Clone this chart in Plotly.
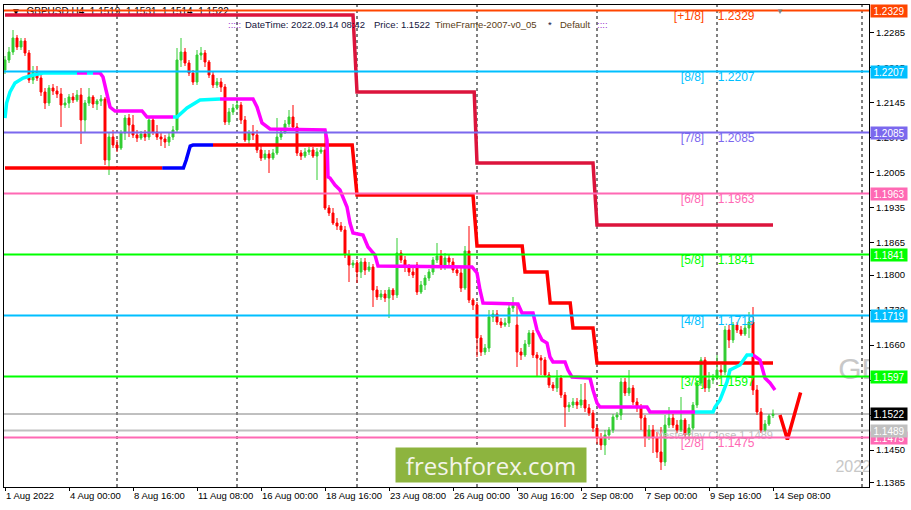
import plotly.graph_objects as go

# GBPUSD H4, bars from 1 Aug 2022 08:00 to 14 Sep 2022 08:00 (bar index = x)
open_ = [1.2210, 1.2230, 1.2246, 1.2274, 1.2256, 1.2268, 1.2244, 1.2190, 1.2206, 1.2194,
         1.2166, 1.2144, 1.2174, 1.2168, 1.2162, 1.2140, 1.2144, 1.2156, 1.2150, 1.2160,
         1.2110, 1.2144, 1.2156, 1.2142, 1.2148, 1.2152, 1.2030, 1.2076, 1.2060, 1.2054,
         1.2084, 1.2114, 1.2100, 1.2080, 1.2074, 1.2082, 1.2076, 1.2110, 1.2086, 1.2076,
         1.2072, 1.2066, 1.2076, 1.2090, 1.2230, 1.2246, 1.2224, 1.2204, 1.2186, 1.2240,
         1.2244, 1.2226, 1.2200, 1.2180, 1.2186, 1.2176, 1.2106, 1.2126, 1.2134, 1.2140,
         1.2110, 1.2070, 1.2084, 1.2080, 1.2050, 1.2034, 1.2042, 1.2034, 1.2044, 1.2076,
         1.2086, 1.2102, 1.2116, 1.2096, 1.2044, 1.2038, 1.2046, 1.2050, 1.2038, 1.2046,
         1.2050, 1.1934, 1.1924, 1.1904, 1.1898, 1.1890, 1.1840, 1.1820, 1.1824, 1.1806,
         1.1826, 1.1810, 1.1816, 1.1770, 1.1756, 1.1762, 1.1754, 1.1770, 1.1760, 1.1844,
         1.1830, 1.1816, 1.1806, 1.1820, 1.1766, 1.1780, 1.1794, 1.1806, 1.1830, 1.1838,
         1.1818, 1.1834, 1.1826, 1.1810, 1.1804, 1.1774, 1.1848, 1.1750, 1.1740, 1.1674,
         1.1646, 1.1654, 1.1716, 1.1722, 1.1706, 1.1700, 1.1704, 1.1734, 1.1700, 1.1646,
         1.1640, 1.1662, 1.1684, 1.1640, 1.1634, 1.1630, 1.1600, 1.1580, 1.1574, 1.1594,
         1.1560, 1.1536, 1.1540, 1.1546, 1.1540, 1.1550, 1.1534, 1.1524, 1.1494, 1.1474,
         1.1460, 1.1480, 1.1490, 1.1516, 1.1520, 1.1586, 1.1564, 1.1574, 1.1546, 1.1534,
         1.1514, 1.1476, 1.1490, 1.1474, 1.1446, 1.1426, 1.1500, 1.1514, 1.1500, 1.1490,
         1.1510, 1.1480, 1.1494, 1.1540, 1.1584, 1.1630, 1.1574, 1.1590, 1.1594, 1.1610,
         1.1606, 1.1690, 1.1670, 1.1700, 1.1690, 1.1682, 1.1694, 1.1706, 1.1570, 1.1526,
         1.1490, 1.1502, 1.1519]
high = [1.2238, 1.2256, 1.2290, 1.2280, 1.2274, 1.2274, 1.2250, 1.2218, 1.2218, 1.2202,
        1.2174, 1.2180, 1.2182, 1.2178, 1.2174, 1.2154, 1.2162, 1.2164, 1.2170, 1.2174,
        1.2150, 1.2174, 1.2160, 1.2152, 1.2160, 1.2156, 1.2084, 1.2090, 1.2070, 1.2090,
        1.2120, 1.2122, 1.2120, 1.2090, 1.2088, 1.2090, 1.2116, 1.2114, 1.2100, 1.2084,
        1.2080, 1.2084, 1.2098, 1.2254, 1.2274, 1.2254, 1.2230, 1.2210, 1.2250, 1.2256,
        1.2250, 1.2230, 1.2206, 1.2194, 1.2194, 1.2182, 1.2134, 1.2142, 1.2150, 1.2146,
        1.2118, 1.2090, 1.2100, 1.2090, 1.2058, 1.2050, 1.2050, 1.2052, 1.2114, 1.2094,
        1.2110, 1.2130, 1.2140, 1.2104, 1.2050, 1.2054, 1.2056, 1.2056, 1.2054, 1.2056,
        1.2090, 1.1940, 1.1934, 1.1914, 1.1906, 1.1898, 1.1850, 1.1830, 1.1830, 1.1834,
        1.1834, 1.1826, 1.1822, 1.1778, 1.1770, 1.1770, 1.1776, 1.1774, 1.1874, 1.1850,
        1.1838, 1.1822, 1.1818, 1.1826, 1.1788, 1.1800, 1.1812, 1.1836, 1.1864, 1.1850,
        1.1844, 1.1842, 1.1834, 1.1818, 1.1818, 1.1858, 1.1898, 1.1754, 1.1746, 1.1680,
        1.1662, 1.1730, 1.1730, 1.1730, 1.1714, 1.1714, 1.1746, 1.1756, 1.1740, 1.1654,
        1.1670, 1.1690, 1.1690, 1.1646, 1.1640, 1.1636, 1.1606, 1.1586, 1.1610, 1.1600,
        1.1566, 1.1546, 1.1554, 1.1554, 1.1582, 1.1584, 1.1542, 1.1530, 1.1500, 1.1484,
        1.1490, 1.1496, 1.1522, 1.1526, 1.1594, 1.1594, 1.1610, 1.1580, 1.1554, 1.1542,
        1.1520, 1.1500, 1.1500, 1.1486, 1.1496, 1.1520, 1.1536, 1.1522, 1.1510, 1.1556,
        1.1514, 1.1502, 1.1546, 1.1590, 1.1636, 1.1636, 1.1606, 1.1602, 1.1640, 1.1620,
        1.1698, 1.1700, 1.1706, 1.1706, 1.1698, 1.1700, 1.1726, 1.1736, 1.1580, 1.1534,
        1.1510, 1.1522, 1.1531]
low = [1.2202, 1.2224, 1.2240, 1.2250, 1.2250, 1.2238, 1.2184, 1.2182, 1.2188, 1.2158,
       1.2132, 1.2138, 1.2160, 1.2154, 1.2096, 1.2134, 1.2134, 1.2144, 1.2146, 1.2062,
       1.2086, 1.2138, 1.2134, 1.2130, 1.2138, 1.2020, 1.2000, 1.2054, 1.2046, 1.2050,
       1.2070, 1.2076, 1.2074, 1.2066, 1.2070, 1.2068, 1.2070, 1.2080, 1.2070, 1.2058,
       1.2054, 1.2058, 1.2070, 1.2084, 1.2216, 1.2218, 1.2198, 1.2180, 1.2180, 1.2230,
       1.2216, 1.2194, 1.2174, 1.2174, 1.2166, 1.2100, 1.2100, 1.2120, 1.2130, 1.2102,
       1.2066, 1.2060, 1.2070, 1.2044, 1.2028, 1.2030, 1.2004, 1.2030, 1.2040, 1.2070,
       1.2082, 1.2096, 1.2090, 1.2038, 1.2030, 1.2034, 1.2040, 1.2034, 1.1990, 1.2042,
       1.1930, 1.1918, 1.1900, 1.1890, 1.1886, 1.1834, 1.1786, 1.1814, 1.1784, 1.1794,
       1.1800, 1.1806, 1.1736, 1.1750, 1.1750, 1.1746, 1.1714, 1.1750, 1.1754, 1.1824,
       1.1806, 1.1798, 1.1794, 1.1760, 1.1762, 1.1770, 1.1788, 1.1800, 1.1824, 1.1810,
       1.1810, 1.1818, 1.1804, 1.1798, 1.1766, 1.1770, 1.1744, 1.1730, 1.1636, 1.1638,
       1.1640, 1.1646, 1.1706, 1.1700, 1.1694, 1.1696, 1.1696, 1.1726, 1.1616, 1.1630,
       1.1636, 1.1656, 1.1634, 1.1596, 1.1600, 1.1596, 1.1574, 1.1568, 1.1566, 1.1554,
       1.1496, 1.1526, 1.1534, 1.1532, 1.1534, 1.1526, 1.1518, 1.1486, 1.1462, 1.1450,
       1.1440, 1.1470, 1.1484, 1.1510, 1.1510, 1.1558, 1.1558, 1.1540, 1.1526, 1.1490,
       1.1456, 1.1470, 1.1444, 1.1434, 1.1410, 1.1418, 1.1494, 1.1494, 1.1484, 1.1486,
       1.1474, 1.1470, 1.1490, 1.1534, 1.1578, 1.1566, 1.1566, 1.1582, 1.1590, 1.1598,
       1.1600, 1.1654, 1.1664, 1.1684, 1.1678, 1.1678, 1.1674, 1.1560, 1.1520, 1.1484,
       1.1486, 1.1498, 1.1514]
close = [1.2230, 1.2246, 1.2274, 1.2256, 1.2268, 1.2244, 1.2190, 1.2206, 1.2194, 1.2166,
         1.2144, 1.2174, 1.2168, 1.2162, 1.2140, 1.2144, 1.2156, 1.2150, 1.2160, 1.2110,
         1.2144, 1.2156, 1.2142, 1.2148, 1.2152, 1.2030, 1.2076, 1.2060, 1.2054, 1.2084,
         1.2114, 1.2100, 1.2080, 1.2074, 1.2082, 1.2076, 1.2110, 1.2086, 1.2076, 1.2072,
         1.2066, 1.2076, 1.2090, 1.2230, 1.2246, 1.2224, 1.2204, 1.2186, 1.2240, 1.2244,
         1.2226, 1.2200, 1.2180, 1.2186, 1.2176, 1.2106, 1.2126, 1.2134, 1.2140, 1.2110,
         1.2070, 1.2084, 1.2080, 1.2050, 1.2034, 1.2042, 1.2034, 1.2044, 1.2076, 1.2086,
         1.2102, 1.2116, 1.2096, 1.2044, 1.2038, 1.2046, 1.2050, 1.2038, 1.2046, 1.2050,
         1.1934, 1.1924, 1.1904, 1.1898, 1.1890, 1.1840, 1.1820, 1.1824, 1.1806, 1.1826,
         1.1810, 1.1816, 1.1770, 1.1756, 1.1762, 1.1754, 1.1770, 1.1760, 1.1844, 1.1830,
         1.1816, 1.1806, 1.1800, 1.1766, 1.1780, 1.1794, 1.1806, 1.1830, 1.1838, 1.1818,
         1.1834, 1.1826, 1.1810, 1.1804, 1.1774, 1.1848, 1.1750, 1.1740, 1.1674, 1.1646,
         1.1654, 1.1716, 1.1722, 1.1706, 1.1700, 1.1704, 1.1734, 1.1740, 1.1646, 1.1640,
         1.1662, 1.1684, 1.1640, 1.1634, 1.1630, 1.1600, 1.1580, 1.1574, 1.1594, 1.1560,
         1.1536, 1.1540, 1.1546, 1.1540, 1.1550, 1.1534, 1.1524, 1.1494, 1.1474, 1.1460,
         1.1480, 1.1490, 1.1516, 1.1520, 1.1586, 1.1564, 1.1574, 1.1546, 1.1534, 1.1514,
         1.1476, 1.1490, 1.1474, 1.1446, 1.1426, 1.1500, 1.1514, 1.1500, 1.1490, 1.1510,
         1.1480, 1.1494, 1.1540, 1.1584, 1.1630, 1.1574, 1.1590, 1.1594, 1.1610, 1.1606,
         1.1690, 1.1670, 1.1700, 1.1690, 1.1682, 1.1694, 1.1706, 1.1570, 1.1526, 1.1490,
         1.1502, 1.1518, 1.1522]

x_labels = ["1 Aug 2022", "4 Aug 00:00", "8 Aug 16:00", "11 Aug 08:00", "16 Aug 00:00",
            "18 Aug 16:00", "23 Aug 08:00", "26 Aug 00:00", "30 Aug 16:00", "2 Sep 08:00",
            "7 Sep 00:00", "9 Sep 16:00", "14 Sep 08:00"]
week_starts = [28, 58, 88, 118, 148, 178, 214.25]

y_ticks = [1.2285, 1.2215, 1.2145, 1.2075, 1.2005, 1.1935, 1.1865, 1.1800,
           1.1730, 1.1660, 1.1590, 1.1520, 1.1450, 1.1385]

# Murrey math levels
mm_names = ["[+1/8]", "[8/8]", "[7/8]", "[6/8]", "[5/8]", "[4/8]", "[3/8]", "[2/8]"]
mm_levels = [1.2329, 1.2207, 1.2085, 1.1963, 1.1841, 1.1719, 1.1597, 1.1475]
mm_colors = ["#FF4500", "#00BFFF", "#7B68EE", "#FF69B4", "#00FF00", "#00BFFF", "#00FF00", "#FF69B4"]

price_now = 1.1522
yest_close = 1.1489

# weekly channel, upper (crimson) and lower (red / blue while rising)
upper_x = [0, 87, 88, 117.3, 118, 147, 148, 192]
upper_y = [1.2320, 1.2320, 1.2166, 1.2166, 1.2024, 1.2024, 1.1900, 1.1900]
lower_a_x = [0, 39.3]
lower_a_y = [1.2014, 1.2014]
lower_up_x = [39.3, 44.6, 45.3, 46.3, 47, 52]
lower_up_y = [1.2014, 1.2014, 1.2030, 1.2058, 1.2060, 1.2060]
lower_b_x = [52, 86.8, 88, 117, 118, 129.3, 130, 135.5, 136.3, 141.3, 142, 147, 148, 192]
lower_b_y = [1.2060, 1.2060, 1.1960, 1.1960, 1.1858, 1.1858, 1.1806, 1.1806,
             1.1744, 1.1744, 1.1694, 1.1694, 1.1624, 1.1624]

# step average: rising parts aqua, falling parts magenta
ma_up = [
    ([0, 0.4, 1.25, 2.5, 4.5, 7, 9.5, 18],
     [1.2114, 1.2144, 1.2166, 1.2184, 1.2194, 1.2200, 1.2204, 1.2204]),
    ([20.5, 22], [1.2204, 1.2204]),
    ([42, 43, 45.5, 48.75, 53.75], [1.2116, 1.2116, 1.2134, 1.2150, 1.2152]),
    ([172.5, 177, 177.5, 178.75, 180.5, 181.25, 183.75, 185.5, 187],
     [1.1526, 1.1526, 1.1536, 1.1550, 1.1586, 1.1610, 1.1620, 1.1640, 1.1640]),
]
ma_down = [
    ([18, 20.5], [1.2204, 1.2204]),
    ([22, 23.75, 24.5, 25.5, 26.25, 27.5, 34.25, 35.5, 42],
     [1.2204, 1.2204, 1.2196, 1.2164, 1.2136, 1.2128, 1.2128, 1.2116, 1.2116]),
    ([53.75, 62, 63, 64.25, 66.25, 80, 80.5, 80.75, 81.25, 82.5, 83.75, 84.5, 85.5, 86.25,
      87, 89.5, 90.75, 92.5, 93.25, 116.75, 118, 118.75, 119.5, 128.25, 129.25, 132, 133,
      134.25, 135.5, 136.25, 137, 140, 140.75, 141.75, 146.25, 147, 148, 148.75, 160.5,
      161.25, 172.5],
     [1.2152, 1.2152, 1.2136, 1.2104, 1.2092, 1.2090, 1.2070, 1.1996, 1.1994, 1.1980,
      1.1970, 1.1956, 1.1936, 1.1904, 1.1884, 1.1880, 1.1856, 1.1840, 1.1818, 1.1816,
      1.1804, 1.1770, 1.1744, 1.1742, 1.1724, 1.1724, 1.1690, 1.1670, 1.1664, 1.1636,
      1.1626, 1.1626, 1.1610, 1.1596, 1.1594, 1.1570, 1.1544, 1.1536, 1.1536, 1.1526,
      1.1526]),
    ([187, 188.75, 190, 191.25, 192.5], [1.1640, 1.1630, 1.1594, 1.1584, 1.1570]),
]

# hand-drawn tick mark in the future area
check_x = [193.75, 195.6, 198.9]
check_y = [1.1520, 1.1471, 1.1565]

FONT = "Liberation Sans"
bars = list(range(len(close)))

fig = go.Figure()

# header (drawn first so the level lines cross it)
fig.add_trace(go.Scatter(x=[1.5], y=[1.2326], mode="text",
                         text=["\u25BC  GBPUSD,H4  1.1519  1.1531  1.1514  1.1522"],
                         textposition="middle right",
                         textfont=dict(family=FONT, size=10, color="#000000"),
                         hoverinfo="skip", showlegend=False))
# symbol watermark, clipped by the plot edge
fig.add_trace(go.Scatter(x=[208.3, 207.6], y=[1.1608, 1.1414], mode="text",
                         text=["GBPUSD,H4", "2022.09.14"],
                         textposition="middle right",
                         textfont=dict(family=FONT, size=[30, 16], color="#C8C8C8"),
                         cliponaxis=True, hoverinfo="skip", showlegend=False))
# level captions and yesterday close caption
fig.add_trace(go.Scatter(x=[174.8] * len(mm_levels), y=mm_levels, mode="text",
                         text=mm_names, textposition="bottom left",
                         textfont=dict(family=FONT, size=12, color=mm_colors),
                         hoverinfo="skip", showlegend=False))
fig.add_trace(go.Scatter(x=[178.2] * len(mm_levels), y=mm_levels, mode="text",
                         text=[f"{v:.4f}" for v in mm_levels], textposition="bottom right",
                         textfont=dict(family=FONT, size=12, color=mm_colors),
                         hoverinfo="skip", showlegend=False))
fig.add_trace(go.Scatter(x=[192], y=[yest_close], mode="text",
                         text=[f"Yesterday Close {yest_close:.4f}"], textposition="bottom left",
                         textfont=dict(family=FONT, size=11, color="#C0C0C0"),
                         hoverinfo="skip", showlegend=False))

fig.add_trace(go.Candlestick(
    x=bars, open=open_, high=high, low=low, close=close,
    increasing=dict(line=dict(color="#32CD32", width=1), fillcolor="#32CD32"),
    decreasing=dict(line=dict(color="#FF0000", width=1), fillcolor="#FF0000"),
    whiskerwidth=0, hoverinfo="skip", showlegend=False))

line_style = dict(mode="lines", hoverinfo="skip", showlegend=False)
fig.add_trace(go.Scatter(x=upper_x, y=upper_y, line=dict(color="#DC143C", width=3.5), **line_style))
fig.add_trace(go.Scatter(x=lower_a_x, y=lower_a_y, line=dict(color="#FF0000", width=3.5), **line_style))
fig.add_trace(go.Scatter(x=lower_up_x, y=lower_up_y, line=dict(color="#0000FF", width=3.5), **line_style))
fig.add_trace(go.Scatter(x=lower_b_x, y=lower_b_y, line=dict(color="#FF0000", width=3.5), **line_style))
for xs, ys in ma_down:
    fig.add_trace(go.Scatter(x=xs, y=ys, line=dict(color="#FF00FF", width=3.5), **line_style))
for xs, ys in ma_up:
    fig.add_trace(go.Scatter(x=xs, y=ys, line=dict(color="#00FFFF", width=3.5), **line_style))
fig.add_trace(go.Scatter(x=check_x, y=check_y, line=dict(color="#FF0000", width=3.5), **line_style))

# week separators, price lines, Murrey levels
for wx in week_starts:
    fig.add_shape(type="line", xref="x", yref="paper", x0=wx, x1=wx, y0=0, y1=1,
                  line=dict(color="#000000", width=1, dash="3px,3px"), layer="below")
fig.add_shape(type="line", xref="paper", yref="y", x0=0, x1=1, y0=yest_close, y1=yest_close,
              line=dict(color="#C0C0C0", width=2), layer="below")
fig.add_shape(type="line", xref="paper", yref="y", x0=0, x1=1, y0=price_now, y1=price_now,
              line=dict(color="#808080", width=1), layer="below")
for lv, col in zip(mm_levels, mm_colors):
    fig.add_shape(type="line", xref="paper", yref="y", x0=0, x1=1, y0=lv, y1=lv,
                  line=dict(color=col, width=2), layer="above")

# price boxes on the right scale
box_vals = mm_levels[:-1] + [price_now, mm_levels[-1], yest_close]
box_cols = mm_colors[:-1] + ["#000000", mm_colors[-1], "#C0C0C0"]
for v, col in zip(box_vals, box_cols):
    fig.add_annotation(xref="paper", yref="y", x=1, y=v, xanchor="left", yanchor="middle",
                       xshift=1, text=f"{v:.4f}", showarrow=False, bgcolor=col,
                       width=34, height=10, borderpad=1,
                       font=dict(family=FONT, size=10, color="#FFFFFF"))

# info line at the top
info = [(226, ":::::", "#9932CC"), (243, "DateTime: 2022.09.14 08:42", "#14143C"),
        (372, "Price: 1.1522", "#14143C"), (433, "TimeFrame-2007-v0_05", "#5A3C14"),
        (546, "*", "#14143C"), (558, "Default", "#5A3C14"), (595, "::::", "#9932CC")]
for px, txt, col in info:
    fig.add_annotation(xref="paper", yref="paper", x=(px - 4) / 865, y=(487 - 25) / 482,
                       xanchor="left", yanchor="middle", text=txt, showarrow=False,
                       font=dict(family=FONT, size=9.5, color=col))

# chart shift marker
fig.add_annotation(xref="x", yref="paper", x=193.75, y=1, yanchor="top", text="\u25BC",
                   showarrow=False, font=dict(size=8, color="#808080"))

# logo
fig.add_annotation(xref="paper", yref="paper", x=(395 - 4) / 865, y=(487 - 465) / 482,
                   xanchor="left", yanchor="middle", text="freshforex.com", showarrow=False,
                   bgcolor="#8DB43F", width=190, height=34, borderpad=0,
                   font=dict(family="Open Sans", size=24, color="#F4F4EA"))

fig.update_layout(
    width=911, height=510,
    margin=dict(l=4, r=42, t=5, b=23),
    paper_bgcolor="#FFFFFF", plot_bgcolor="#FFFFFF",
    font=dict(family=FONT, size=9.5, color="#000000"),
    xaxis=dict(range=[-0.25, 216], tickvals=[16 * k for k in range(len(x_labels))],
               ticktext=x_labels, ticks="outside", ticklen=3, tickcolor="#000000",
               tickangle=0, ticklabelposition="outside right", automargin=False,
               showgrid=False, zeroline=False,
               showline=True, linecolor="#000000", mirror=True,
               rangeslider=dict(visible=False), fixedrange=True),
    yaxis=dict(range=[1.1376, 1.2340], side="right", tickvals=y_ticks,
               ticktext=[f"{v:.4f}" for v in y_ticks], ticks="outside", ticklen=4,
               tickcolor="#000000", showgrid=False, zeroline=False, showline=True,
               automargin=False, linecolor="#000000", mirror=True, fixedrange=True),
    boxgap=0.3,
)

# page body has a default 8px margin; remove it so the figure sits at the window corner
fig.write_html("out.html", config={"displayModeBar": False},
               post_script="document.body.style.margin='0px';")
